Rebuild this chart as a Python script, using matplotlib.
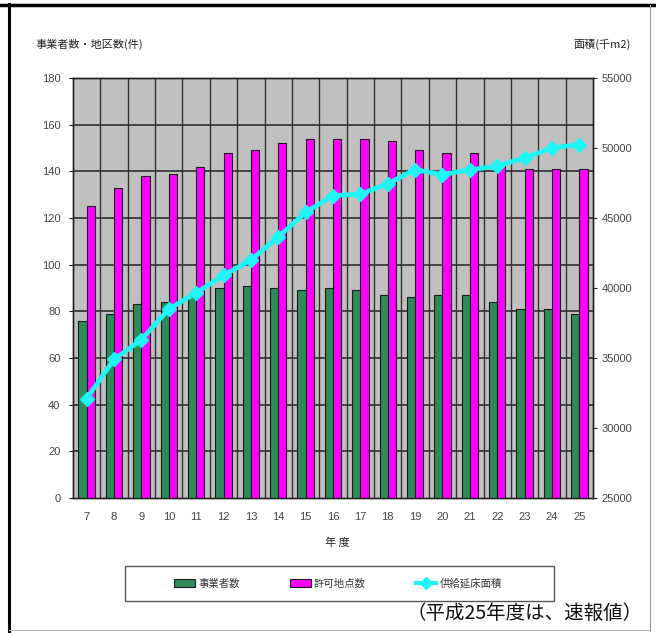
import matplotlib
matplotlib.use("Agg")
import matplotlib.pyplot as plt
from matplotlib.patches import Patch, Rectangle
from matplotlib.lines import Line2D
import numpy as np

plt.rcParams['font.family'] = ['Noto Sans CJK JP', 'DejaVu Sans']

years = [7, 8, 9, 10, 11, 12, 13, 14, 15, 16, 17, 18, 19, 20, 21, 22, 23, 24, 25]
operators = [76, 79, 83, 84, 86, 90, 91, 90, 89, 90, 89, 87, 86, 87, 87, 84, 81, 81, 79]
permits = [125, 133, 138, 139, 142, 148, 149, 152, 154, 154, 154, 153, 149, 148, 148, 143, 141, 141, 141]
floor_area = [32100, 34900, 36300, 38500, 39650, 40900, 42000, 43650, 45400, 46600, 46700,
              47450, 48450, 48100, 48450, 48700, 49300, 50000, 50250]

left_ticks = list(range(0, 181, 20))
right_ticks = list(range(25000, 55001, 5000))

W, H = 656, 633
fig = plt.figure(figsize=(W / 100, H / 100), dpi=100)

def fx(px):
    return px / W

def fy(py):
    return 1 - py / H

ax = fig.add_axes([fx(73), fy(498), fx(593) - fx(73), fy(78) - fy(498)])
ax2 = ax.twinx()

x = np.arange(len(years))
bw = 0.3
ax.set_facecolor('#C0C0C0')
ax.bar(x - bw / 2, operators, width=bw, color='#2E8B57', edgecolor='#1a1a1a', linewidth=0.8, zorder=3)
ax.bar(x + bw / 2, permits, width=bw, color='#FF00FF', edgecolor='#1a1a1a', linewidth=0.8, zorder=3)
ax.set_xlim(-0.5, len(years) - 0.5)
ax.set_ylim(0, 180)
ax.set_yticks(left_ticks)
ax.set_xticks(x)
ax.set_xticklabels([str(y) for y in years])
for v in left_ticks[1:]:
    ax.axhline(v, color='#222222', linewidth=1.1, zorder=1)
for b in x[:-1]:
    ax.axvline(b + 0.5, color='#333333', linewidth=1.0, zorder=1)

ax2.plot(x, floor_area, color='#1EF5F5', linewidth=3.4, marker='D', markersize=7.5,
         markerfacecolor='#1EF5F5', markeredgecolor='#1EF5F5', zorder=5)
ax2.set_ylim(25000, 55000)
ax2.set_yticks(right_ticks)
ax.set_zorder(1)
ax2.set_zorder(2)
ax2.patch.set_visible(False)

for lab in ax.get_yticklabels() + ax.get_xticklabels() + ax2.get_yticklabels():
    lab.set_fontfamily('Liberation Sans')
    lab.set_fontsize(8)
    lab.set_color('#444444')
ax.tick_params(axis='y', length=3, direction='out', pad=6, color='#222222')
ax.tick_params(axis='x', length=0, pad=10)
ax2.tick_params(axis='y', length=3, direction='out', pad=3, color='#222222')
for a in (ax, ax2):
    for s in a.spines.values():
        s.set_color('#222222')
        s.set_linewidth(1.0)

fig.text(fx(35), fy(44), '事業者数・地区数(件)', fontsize=8, color='#222222', va='center', ha='left')
fig.text(fx(631), fy(44), '面積(千m2)', fontsize=8, color='#222222', va='center', ha='right')
fig.text(fx(337), fy(543), '年 度', fontsize=8, color='#222222', va='center', ha='center')

# legend frame
fig.patches.append(Rectangle((fx(125), fy(601)), fx(554) - fx(125), fy(566) - fy(601),
                             transform=fig.transFigure, facecolor='white',
                             edgecolor='#555555', linewidth=1.0))
handles = [Patch(facecolor='#2E8B57', edgecolor='#1a1a1a', linewidth=0.8),
           Patch(facecolor='#FF00FF', edgecolor='#1a1a1a', linewidth=0.8),
           Line2D([], [], color='#1EF5F5', linewidth=3, marker='D', markersize=6)]
fig.legend(handles, ['事業者数', '許可地点数', '供給延床面積'], loc='center',
           bbox_to_anchor=(fx(338), fy(583.5)), ncol=3, frameon=False, fontsize=7.5,
           handlelength=2.0, handletextpad=0.3, columnspacing=4.8, labelcolor='#333333')

fig.text(fx(643), fy(613), '（平成25年度は、速報値）', fontsize=14, color='#111111',
         va='center', ha='right')

# outer frame
fig.add_artist(Line2D([fx(9), fx(9)], [fy(4), fy(633)], transform=fig.transFigure, color='black', linewidth=2.2))
fig.add_artist(Line2D([fx(0), fx(656)], [fy(5), fy(5)], transform=fig.transFigure, color='black', linewidth=2.5))
fig.add_artist(Line2D([fx(650), fx(650)], [fy(5), fy(631)], transform=fig.transFigure, color='#999999', linewidth=0.8))
fig.add_artist(Line2D([fx(9), fx(650)], [fy(630), fy(630)], transform=fig.transFigure, color='#bbbbbb', linewidth=0.8))

fig.savefig('out.png', dpi=100)
